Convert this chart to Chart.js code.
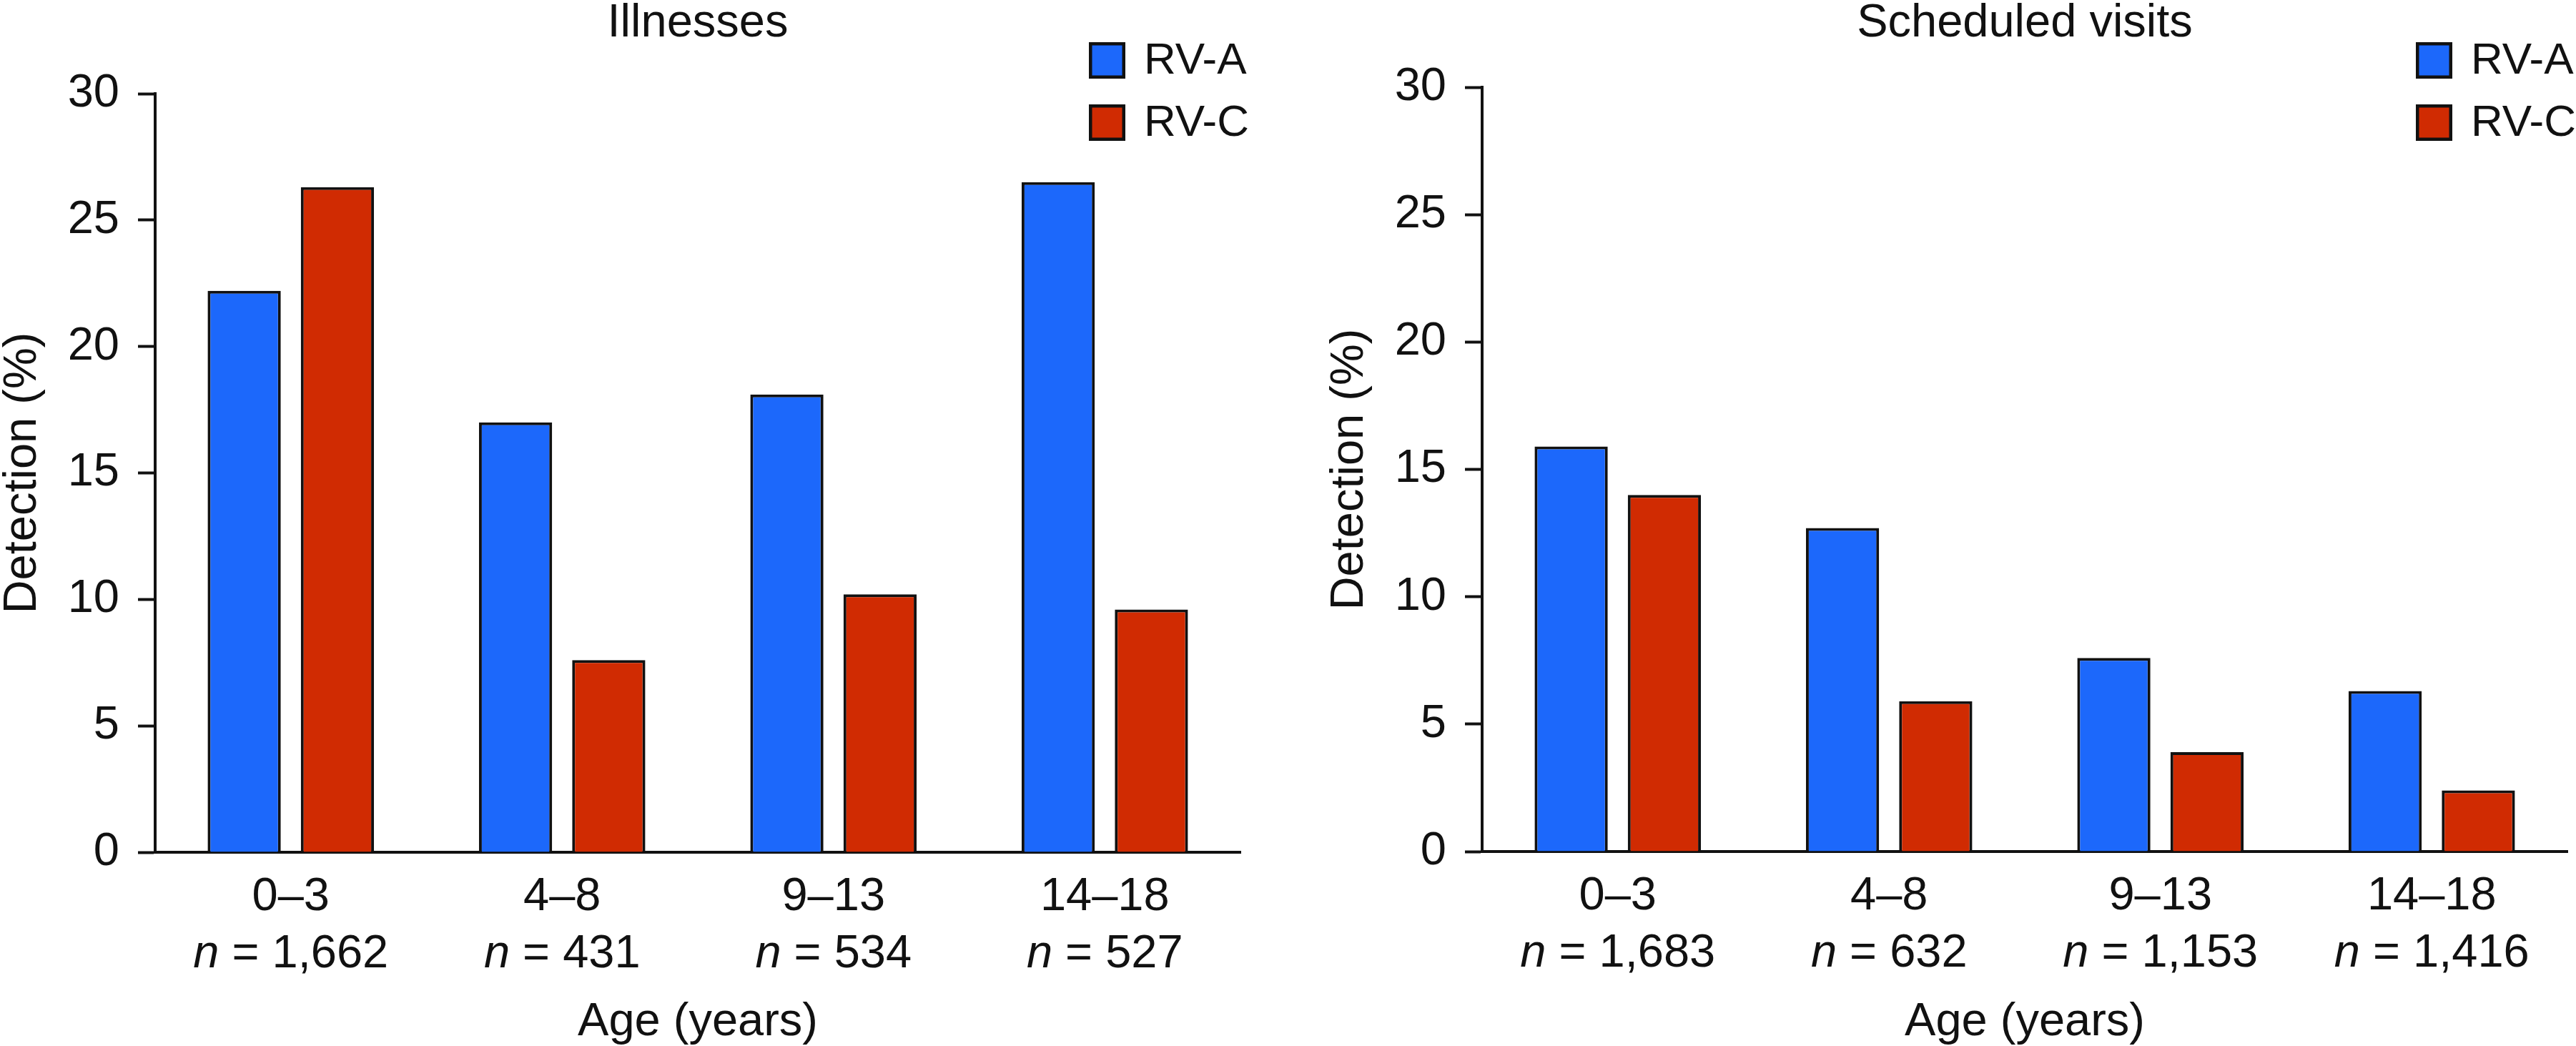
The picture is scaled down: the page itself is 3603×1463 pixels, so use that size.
<!DOCTYPE html>
<html>
<head>
<meta charset="utf-8">
<script src="https://cdn.jsdelivr.net/npm/chart.js@4.4.1/dist/chart.umd.min.js"></script>
<style>
  html, body { margin: 0; padding: 0; background: #fff; }
  #wrap { position: relative; width: 3603px; height: 1463px; overflow: hidden; }
  #leftBox { position: absolute; left: 0; top: 0; }
  #rightBox { position: absolute; left: 1856px; top: 0; }
</style>
</head>
<body>
<div id="wrap">
  <div id="leftBox"><canvas id="illnessChart" width="1856" height="1463"></canvas></div>
  <div id="rightBox"><canvas id="visitChart" width="1747" height="1463"></canvas></div>
</div>
<script>
// ── Data ──
const ageGroups = ['0–3', '4–8', '9–13', '14–18'];
const illnessN = ['1,662', '431', '534', '527'];
const visitN = ['1,683', '632', '1,153', '1,416'];

const illnessRVA = [22.2, 17.0, 18.1, 26.5];
const illnessRVC = [26.3, 7.6, 10.2, 9.6];
const visitRVA = [15.9, 12.7, 7.6, 6.3];
const visitRVC = [14.0, 5.9, 3.9, 2.4];

const seriesNames = ['RV-A', 'RV-C'];
const yMin = 0, yMax = 30, yStep = 5;

const BLUE = '#1c68fb';
const RED = '#d02b02';
const INK = '#111';
const FONT = "'Liberation Sans', Arial, Helvetica, sans-serif";

// legend: bordered squares up in the top-right corner
const boxLegend = {
  id: 'boxLegend',
  afterDraw(chart) {
    const { ctx, chartArea } = chart;
    const x0 = chartArea.right - 212;
    chart.data.datasets.forEach((ds, i) => {
      const y = 59 + i * 87;
      ctx.save();
      ctx.fillStyle = ds.backgroundColor;
      ctx.fillRect(x0, y, 51, 51);
      ctx.lineWidth = 4.5;
      ctx.strokeStyle = INK;
      ctx.strokeRect(x0 + 2.25, y + 2.25, 46.5, 46.5);
      ctx.fillStyle = INK;
      ctx.font = '62px ' + FONT;
      ctx.textBaseline = 'middle';
      ctx.textAlign = 'left';
      ctx.fillText(ds.label, x0 + 77, y + 27);
      ctx.restore();
    });
  }
};

// two-line x labels, with an italic n on the second line
const ageLabels = {
  id: 'ageLabels',
  afterDraw(chart) {
    const { ctx, chartArea } = chart;
    const xs = chart.scales.x;
    const counts = chart.options.plugins.ageLabels.counts;
    ctx.save();
    ctx.fillStyle = INK;
    ctx.textBaseline = 'alphabetic';
    ageGroups.forEach((g, i) => {
      const x = xs.getPixelForValue(i);
      ctx.font = '65px ' + FONT;
      ctx.textAlign = 'center';
      ctx.fillText(g, x, chartArea.bottom + 81);

      const rest = ' = ' + counts[i];
      ctx.font = 'italic 65px ' + FONT;
      const wn = ctx.measureText('n').width;
      ctx.font = '65px ' + FONT;
      const wr = ctx.measureText(rest).width;
      let sx = x - (wn + wr) / 2;
      ctx.textAlign = 'left';
      ctx.font = 'italic 65px ' + FONT;
      ctx.fillText('n', sx, chartArea.bottom + 161);
      ctx.font = '65px ' + FONT;
      ctx.fillText(rest, sx + wn, chartArea.bottom + 161);
    });
    ctx.restore();
  }
};

function makeChart(canvasId, title, rva, rvc, counts, titleGap, xHeight, rightPad) {
  const ctx = document.getElementById(canvasId).getContext('2d');
  return new Chart(ctx, {
    type: 'bar',
    data: {
      labels: ageGroups,
      datasets: [
        { label: seriesNames[0], data: rva, backgroundColor: BLUE, borderColor: INK, borderWidth: 4 },
        { label: seriesNames[1], data: rvc, backgroundColor: RED, borderColor: INK, borderWidth: 4 }
      ]
    },
    options: {
      responsive: false,
      animation: false,
      devicePixelRatio: 1,
      categoryPercentage: 0.687,
      barPercentage: 0.785,
      layout: { padding: { left: 0, right: rightPad, top: 0, bottom: 0 } },
      plugins: {
        legend: { display: false },
        tooltip: { enabled: false },
        title: {
          display: true,
          text: title,
          fullSize: false,
          color: INK,
          font: { family: FONT, size: 65, weight: 'normal', lineHeight: 1 },
          padding: { top: 1, bottom: titleGap }
        },
        ageLabels: { counts: counts }
      },
      scales: {
        x: {
          grid: { display: false },
          border: { display: true, color: INK, width: 4 },
          ticks: { display: false },
          title: {
            display: true,
            text: 'Age (years)',
            color: INK,
            font: { family: FONT, size: 65, lineHeight: 1 },
            padding: 0
          },
          afterFit(scale) { scale.height = xHeight; }
        },
        y: {
          min: yMin,
          max: yMax,
          ticks: {
            stepSize: yStep,
            color: INK,
            padding: 26,
            font: { family: FONT, size: 65 }
          },
          grid: { drawOnChartArea: false, drawTicks: true, tickLength: 24, tickWidth: 4, color: INK },
          border: { display: true, color: INK, width: 4 },
          title: {
            display: true,
            text: 'Detection (%)',
            color: INK,
            font: { family: FONT, size: 65, lineHeight: 1 },
            padding: 0
          },
          afterFit(scale) { scale.width = 217; }
        }
      }
    },
    plugins: [boxLegend, ageLabels]
  });
}

makeChart('illnessChart', 'Illnesses', illnessRVA, illnessRVC, illnessN, 65, 271, 121);
makeChart('visitChart', 'Scheduled visits', visitRVA, visitRVC, visitN, 56, 272, 12);
</script>
</body>
</html>
